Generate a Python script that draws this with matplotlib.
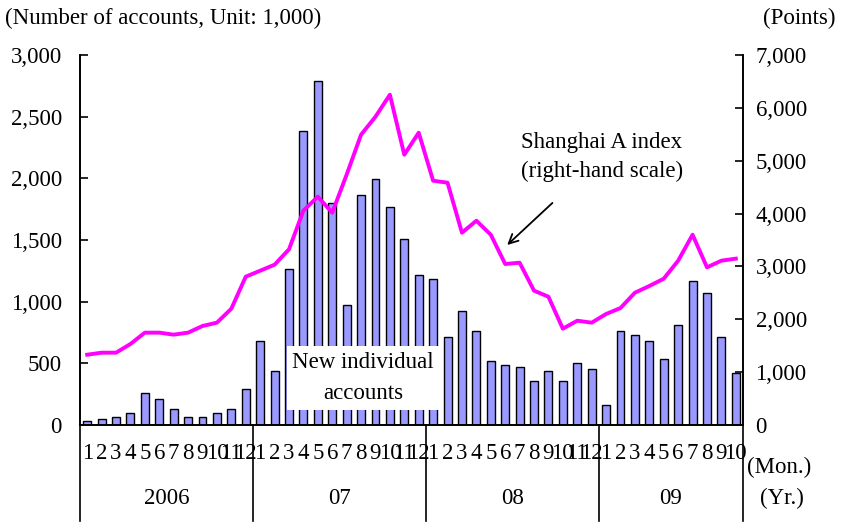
import matplotlib
matplotlib.use("Agg")
import matplotlib.pyplot as plt
import numpy as np

plt.rcParams['font.family'] = ['Liberation Serif', 'DejaVu Serif']

# Monthly data, Jan 2006 - Oct 2009
years = ['2006', '07', '08', '09']
months_per_year = [12, 12, 12, 10]

# New individual accounts (thousands)
accounts = [35, 51, 68, 100, 262, 213, 132, 68, 68, 100, 132, 294,
            684, 440, 1268, 2386, 2792, 1802, 975, 1867, 1997, 1770, 1510, 1219,
            1186, 716, 927, 765, 521, 489, 473, 359, 440, 359, 505, 456,
            165, 765, 732, 684, 538, 813, 1170, 1073, 716, 424]

# Shanghai A index (points)
sh_index = [1330, 1368, 1368, 1532, 1747, 1747, 1709, 1747, 1873, 1936, 2200, 2806,
            2919, 3033, 3323, 4055, 4320, 4017, 4736, 5492, 5833, 6249, 5114, 5530,
            4622, 4584, 3638, 3865, 3600, 3046, 3071, 2541, 2427, 1822, 1973, 1936,
            2100, 2213, 2503, 2630, 2768, 3109, 3600, 2983, 3109, 3147]

month_labels = [str(m) for n in months_per_year for m in range(1, n + 1)]

fs = 16.5
fig = plt.figure(figsize=(8.41, 5.28), dpi=100)
ax = fig.add_axes([0.0951, 0.1951, 0.7884, 0.7007])
ax2 = ax.twinx()

x = np.arange(len(accounts))
ax.bar(x, accounts, width=0.55, color='#9999FF', edgecolor='black', linewidth=1.0, zorder=2)
ax2.plot(x, sh_index, color='#FF00FF', lw=2.8, zorder=3)

ax.set_xlim(-0.5, len(accounts) - 0.5)
ax.set_ylim(0, 3000)
ax2.set_ylim(0, 7000)
ax.set_yticks(np.arange(0, 3001, 500))
ax.set_yticklabels([f'{v:,}' for v in range(0, 3001, 500)], fontsize=fs)
ax2.set_yticks(np.arange(0, 7001, 1000))
ax2.set_yticklabels([f'{v:,}' for v in range(0, 7001, 1000)], fontsize=fs)
ax.tick_params(axis='y', direction='in', length=6, width=1.2, pad=13)
ax2.tick_params(axis='y', direction='in', length=6, width=1.2, pad=9)

ax.set_xticks(x)
ax.set_xticklabels(month_labels, fontsize=fs)
ax.tick_params(axis='x', length=0, pad=13)

for a in (ax, ax2):
    a.spines['top'].set_visible(False)
    for s in ('left', 'right', 'bottom'):
        a.spines[s].set_linewidth(1.2)
ax2.set_zorder(ax.get_zorder() + 1)
ax.patch.set_visible(False)

# year dividers and year labels
bounds = np.concatenate([[0], np.cumsum(months_per_year)]) - 0.5
for b in bounds:
    ax.plot([b, b], [0, -775], color='black', lw=1.2, clip_on=False, zorder=1)
for i, yr in enumerate(years):
    ax.text((bounds[i] + bounds[i + 1]) / 2, -593, yr, ha='center', va='center', fontsize=fs,
            clip_on=False)

ax.text(48.0, -345, '(Mon.)', ha='center', va='center', fontsize=fs, clip_on=False)
ax.text(48.2, -593, '(Yr.)', ha='center', va='center', fontsize=fs, clip_on=False)

fig.text(0.006, 0.965, '(Number of accounts, Unit: 1,000)', fontsize=fs, ha='left', va='center')
fig.text(0.993, 0.965, '(Points)', fontsize=fs, ha='right', va='center')

# labels
ax.text(19.15, 381, 'New individual\naccounts', ha='center', va='center', fontsize=fs,
        linespacing=1.65, zorder=5,
        bbox=dict(facecolor='white', edgecolor='none', pad=4))
ax2.annotate('Shanghai A index\n(right-hand scale)', xy=(29.0, 3370), xytext=(35.7, 5070),
             ha='center', va='center', fontsize=fs, linespacing=1.5,
             arrowprops=dict(arrowstyle='->', color='black', lw=1.3, shrinkA=19))

fig.savefig('out.png', dpi=100)
